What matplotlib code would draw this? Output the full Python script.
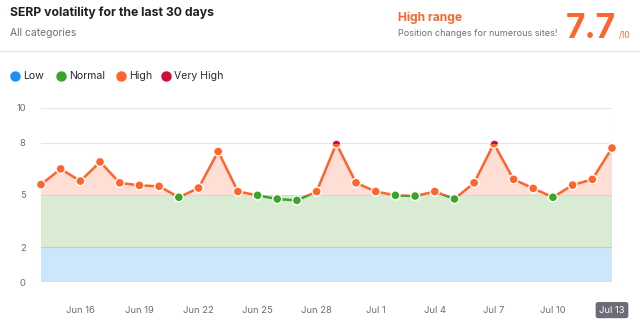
import numpy as np
import matplotlib
matplotlib.use("Agg")
import matplotlib.pyplot as plt
from matplotlib.patches import Rectangle
import datetime as dt

plt.rcParams['font.family'] = ['Inter', 'DejaVu Sans']

# ---- data ----
dates = [dt.date(2023, 6, 14) + dt.timedelta(days=i) for i in range(30)]
values = [5.6, 6.5, 5.8, 6.9, 5.7, 5.55, 5.5, 4.87, 5.4, 7.5,
          5.2, 4.98, 4.77, 4.69, 5.2, 7.95, 5.7, 5.2, 4.98, 4.94,
          5.2, 4.77, 5.7, 7.95, 5.9, 5.38, 4.87, 5.57, 5.9, 7.7]
tick_labels = ["Jun 16", "Jun 19", "Jun 22", "Jun 25", "Jun 28",
               "Jul 1", "Jul 4", "Jul 7", "Jul 10", "Jul 13"]
y_ticks = [0, 2, 5, 8, 10]
legend_names = ["Low", "Normal", "High", "Very High"]
score = "7.7"

ORANGE = "#ff642d"
GREEN = "#3aa52a"
BLUE = "#1a90ff"
CRIMSON = "#d10a3c"
GRAY = "#6c6e79"

W, H = 640, 329
fig = plt.figure(figsize=(W / 100, H / 100), dpi=100)

def fx(px):
    return px / W

def fy(py):
    return 1 - py / H

# header texts
fig.text(fx(10), fy(13), "SERP volatility for the last 30 days", fontsize=8.8,
         fontweight="bold", color="#1f1f26", va="center", ha="left")
fig.text(fx(10), fy(33), "All categories", fontsize=7.4, color=GRAY, va="center", ha="left")
fig.text(fx(398), fy(18), "High range", fontsize=8.6, fontweight="bold", color=ORANGE,
         va="center", ha="left")
fig.text(fx(398), fy(33), "Position changes for numerous sites!", fontsize=6.5, color=GRAY,
         va="center", ha="left")
fig.text(fx(616), fy(38.5), score, fontsize=24, fontweight="bold", color=ORANGE,
         va="baseline", ha="right")
fig.text(fx(619), fy(38), "/10", fontsize=6, color=ORANGE, va="baseline", ha="left")

# divider
fig.add_artist(plt.Line2D([0, 1], [fy(51), fy(51)], color="#e4e4e8", lw=0.8,
                          transform=fig.transFigure))

# legend
leg_x = [15, 61, 121, 166]
leg_cols = [BLUE, GREEN, ORANGE, CRIMSON]
for x, name, c in zip(leg_x, legend_names, leg_cols):
    fig.add_artist(plt.Line2D([fx(x)], [fy(76)], marker="o", markersize=6.5, color=c,
                              lw=0, transform=fig.transFigure))
    fig.text(fx(x + 8), fy(76), name, fontsize=7.6, color="#2b2b33", va="center", ha="left")

# axes
ax = fig.add_axes([fx(41), fy(282), fx(612) - fx(41), fy(108) - fy(282)])
x = np.arange(len(values))
y = np.array(values)
ax.set_xlim(0, len(values) - 1)
ax.set_ylim(0, 10)
for s in ax.spines.values():
    s.set_visible(False)

ax.axhspan(0, 2, color="#cce6fc", lw=0, zorder=0)
ax.axhspan(2, 5, color="#d9ecd3", lw=0, zorder=0)
ax.axhline(0, color="#a8c9e4", lw=0.8, zorder=1)
ax.axhline(2, color="#b9d6b4", lw=0.8, zorder=1)
ax.axhline(5, color="#c9dcc4", lw=0.6, zorder=1)
ax.axhline(8, color="#e3e3ea", lw=0.8, zorder=1)
ax.axhline(10, color="#e3e3ea", lw=0.8, zorder=1)
ax.axvline(len(values) - 1, color="#a9a9b3", lw=0.8, ls=(0, (3, 3)), zorder=1)

ax.fill_between(x, 5, y, where=y > 5, interpolate=True, color="#ffdfd5", lw=0, zorder=2)

# line colored by range
clip_hi = Rectangle((-1, 5), 40, 20, transform=ax.transData)
clip_lo = Rectangle((-1, -5), 40, 10, transform=ax.transData)
l1, = ax.plot(x, y, color=ORANGE, lw=1.8, zorder=3, solid_capstyle="round")
l1.set_clip_path(clip_hi)
l2, = ax.plot(x, y, color=GREEN, lw=1.8, zorder=3, solid_capstyle="round")
l2.set_clip_path(clip_lo)

cols = [GREEN if v < 5 else (CRIMSON if v >= 8.5 else ORANGE) for v in values]
ax.scatter(x, y, s=42, c=cols, edgecolors="white", linewidths=1.0, zorder=4, clip_on=False)
# very-high tip above 8
sc = ax.scatter(x, y, s=42, c=CRIMSON, edgecolors="white", linewidths=1.0, zorder=5, clip_on=True)
sc.set_clip_path(Rectangle((-1, 8), 40, 20, transform=ax.transData))

ax.set_yticks(y_ticks)
ax.set_yticklabels([str(t) for t in y_ticks])
tick_pos = [2 + 3 * i for i in range(len(tick_labels))]
ax.set_xticks(tick_pos)
ax.set_xticklabels(tick_labels)
ax.tick_params(axis="both", length=0, labelsize=6.8, colors=GRAY)
ax.tick_params(axis="y", pad=11)
ax.tick_params(axis="x", pad=17)
last = ax.get_xticklabels()[-1]
last.set_color("white")
last.set_bbox(dict(boxstyle="round,pad=0.38,rounding_size=0.25", fc="#6b6c77", ec="none"))

fig.savefig("out.png", dpi=100, facecolor="white")
